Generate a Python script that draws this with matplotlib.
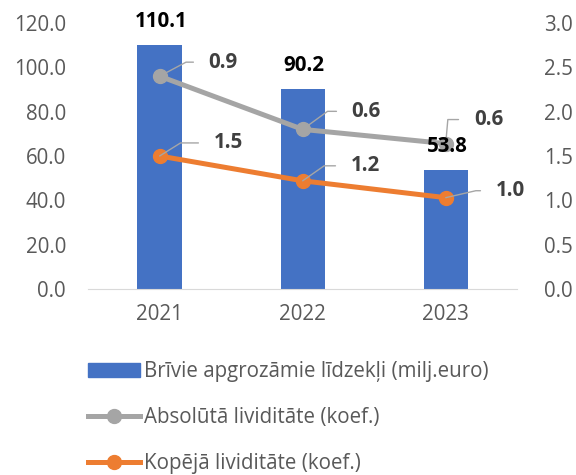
import matplotlib.pyplot as plt
import numpy as np

years = ["2021", "2022", "2023"]
funds = [110.1, 90.2, 53.8]          # Brīvie apgrozāmie līdzekļi (milj.euro)
total_liq = [1.5, 1.22, 1.03]        # Kopējā likviditāte (koef.)
abs_liq = [0.9, 0.58, 0.61]          # Absolūtā likviditāte (koef.), stacked on top

plt.rcParams['font.family'] = ['Open Sans', 'DejaVu Sans']

BLUE = '#4472C4'
GREY = '#A5A5A5'
ORANGE = '#ED7D31'
TXT = '#595959'
FS = 14.8

fig = plt.figure(figsize=(5.76, 4.75), dpi=100)
ax = fig.add_axes([0.153, 0.3916, 0.745, 0.56])
ax2 = ax.twinx()

x = np.arange(len(years))
bars = ax.bar(x, funds, width=0.31, color=BLUE, zorder=2)
ax.set_xlim(-0.5, 2.5)
ax.set_ylim(0, 120)
ax.set_yticks(np.arange(0, 121, 20))
ax.set_yticklabels([f"{v:.1f}" for v in np.arange(0, 121, 20)])
ax.set_xticks(x)
ax.set_xticklabels(years)

ax2.set_ylim(0, 3.0)
ax2.set_yticks(np.arange(0, 3.01, 0.5))
ax2.set_yticklabels([f"{v:.1f}" for v in np.arange(0, 3.01, 0.5)])

for a in (ax, ax2):
    for s in ['top', 'left', 'right', 'bottom']:
        a.spines[s].set_visible(False)
    a.tick_params(length=0, labelsize=FS, colors=TXT)
ax.spines['bottom'].set_visible(True)
ax.spines['bottom'].set_color('#D9D9D9')
ax.tick_params(axis='y', pad=16)
ax.tick_params(axis='x', pad=11)
ax2.tick_params(axis='y', pad=19)

stacked = np.array(total_liq) + np.array(abs_liq)
ax2.plot(x, stacked, color=GREY, lw=3.6, marker='o', ms=10, zorder=3)
ax2.plot(x, total_liq, color=ORANGE, lw=3.6, marker='o', ms=10, zorder=3)

# bar value labels
for xi, v in zip(x, funds):
    ax2.annotate(f"{v:.1f}", (xi, v / 40), xytext=(1, 17), textcoords='offset points',
                 ha='center', va='center', fontsize=FS, fontweight='bold',
                 color='black', zorder=6)

# line labels with leader lines
grey_off = [(35.3, 10.1, 28), (35.3, 13, 36), (20.2, 17.3, 85)]
orange_off = [(38.9, 9.4, 32), (34.6, 10.8, 35), (36, 5, 13)]
for vals, ys, offs in [(abs_liq, stacked, grey_off), (total_liq, total_liq, orange_off)]:
    for xi, v, yv, (dx, dy, ang) in zip(x, vals, ys, offs):
        ax2.annotate(f"{v:.1f}", (xi, yv), xytext=(dx, dy), textcoords='offset points',
                     ha='left', va='center', fontsize=FS, fontweight='bold',
                     color='#404040', zorder=5,
                     arrowprops=dict(arrowstyle='-', color='#A6A6A6', lw=1,
                                     shrinkA=9, shrinkB=0, relpos=(0, 0.5),
                                     connectionstyle=f"angle,angleA=0,angleB={ang},rad=0"))

# legend
from matplotlib.lines import Line2D
from matplotlib.patches import Patch
handles = [Patch(color=BLUE),
           Line2D([], [], color=GREY, lw=3.6, marker='o', ms=10),
           Line2D([], [], color=ORANGE, lw=3.6, marker='o', ms=10)]
labels = ["Brīvie apgrozāmie līdzekļi (milj.euro)",
          "Absolūtā lividitāte (koef.)",
          "Kopējā lividitāte (koef.)"]
fig.legend(handles, labels, loc='upper left', bbox_to_anchor=(0.153, 0.24),
           frameon=False, fontsize=FS, labelcolor=TXT, handlelength=2.5,
           handleheight=0.68, handletextpad=0.22, labelspacing=1.22,
           borderaxespad=0, borderpad=0)

fig.savefig("out.png", dpi=100)
